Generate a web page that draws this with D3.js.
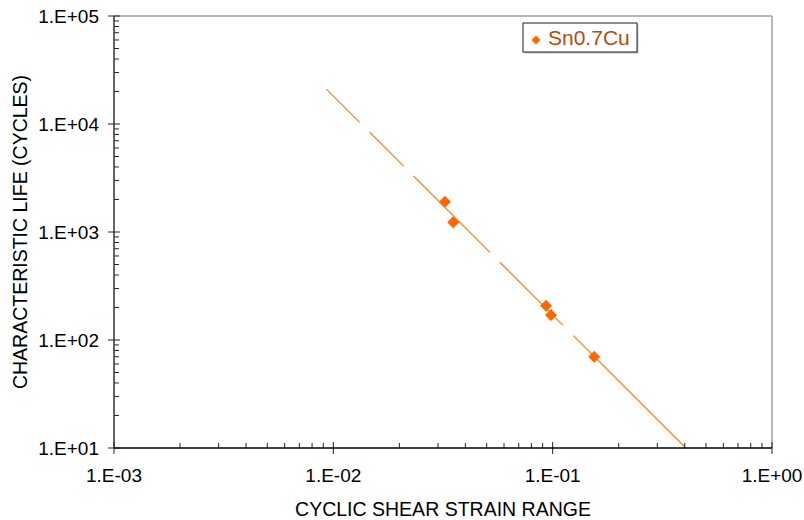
<!DOCTYPE html>
<html>
<head>
<meta charset="utf-8">
<script src="https://cdn.jsdelivr.net/npm/d3@7"></script>
<style>
  body { margin: 0; background: #fff; }
  svg { display: block; font-family: "Liberation Sans", Arial, sans-serif; }
</style>
</head>
<body>
<div id="chart"></div>
<script>
// Data
var strainRange = [0.0323, 0.0352, 0.0933, 0.0983, 0.1547];
var charLife    = [1910, 1230, 208, 170, 70];
var seriesName  = "Sn0.7Cu";
var xTicks = [1e-3, 1e-2, 1e-1, 1];
var xTickLabels = ["1.E-03", "1.E-02", "1.E-01", "1.E+00"];
var yTicks = [1e1, 1e2, 1e3, 1e4, 1e5];
var yTickLabels = ["1.E+01", "1.E+02", "1.E+03", "1.E+04", "1.E+05"];
var trendStart = 0.0093;   // backward forecast of the power trendline

var width = 804, height = 520;
var margin = { top: 16, right: 32, bottom: 72, left: 114 };
var w = width - margin.left - margin.right;
var h = height - margin.top - margin.bottom;

var svg = d3.select("#chart").append("svg")
  .attr("width", width)
  .attr("height", height);

var g = svg.append("g")
  .attr("transform", "translate(" + margin.left + "," + margin.top + ")");

var x = d3.scaleLog().domain([1e-3, 1]).range([0, w]);
var y = d3.scaleLog().domain([1e1, 1e5]).range([h, 0]);

// minor ticks 2..9 per decade
function minors(lo, hi) {
  var out = [];
  for (var e = Math.log10(lo); e < Math.log10(hi); e++) {
    for (var k = 2; k <= 9; k++) out.push(k * Math.pow(10, e));
  }
  return out;
}

// frame: gray top and right
g.append("line").attr("x1", 0).attr("x2", w).attr("y1", 0).attr("y2", 0)
  .attr("stroke", "#a0a0a0").attr("stroke-width", 1.5);
g.append("line").attr("x1", w).attr("x2", w).attr("y1", 0).attr("y2", h)
  .attr("stroke", "#a0a0a0").attr("stroke-width", 1.5);

// power trendline fitted in log-log space
var lx = strainRange.map(Math.log10), ly = charLife.map(Math.log10);
var mx = d3.mean(lx), my = d3.mean(ly);
var slope = d3.sum(lx, (d, i) => (d - mx) * (ly[i] - my)) / d3.sum(lx, d => (d - mx) * (d - mx));
var icpt = my - slope * mx;
var trendEnd = Math.pow(10, (1 - icpt) / slope);
var fit = d => Math.pow(10, icpt + slope * Math.log10(d));

g.append("line")
  .attr("x1", x(trendStart)).attr("y1", y(fit(trendStart)))
  .attr("x2", x(trendEnd)).attr("y2", y(fit(trendEnd)))
  .attr("stroke", "#ff7f1e")
  .attr("stroke-width", 1.2)
  .attr("stroke-dasharray", "47,14,48,14,108,14,89,15,400");

// axes
var xAxis = g.append("g").attr("transform", "translate(0," + h + ")");
xAxis.selectAll(".minor").data(minors(1e-3, 1)).enter().append("line")
  .attr("x1", d => x(d)).attr("x2", d => x(d)).attr("y1", 0).attr("y2", -5)
  .attr("stroke", "#222");
xAxis.selectAll(".major").data(xTicks).enter().append("line")
  .attr("x1", d => x(d)).attr("x2", d => x(d)).attr("y1", -6).attr("y2", 6)
  .attr("stroke", "#222");
xAxis.append("line").attr("x1", 0).attr("x2", w).attr("stroke", "#000").attr("stroke-width", 1.5);
xAxis.selectAll("text").data(xTicks).enter().append("text")
  .attr("x", d => x(d)).attr("y", 34)
  .attr("text-anchor", "middle")
  .style("font-size", "19px")
  .text((d, i) => xTickLabels[i]);

var yAxis = g.append("g");
yAxis.selectAll(".minor").data(minors(1e1, 1e5)).enter().append("line")
  .attr("y1", d => y(d)).attr("y2", d => y(d)).attr("x1", 0).attr("x2", 5)
  .attr("stroke", "#222");
yAxis.selectAll(".major").data(yTicks).enter().append("line")
  .attr("y1", d => y(d)).attr("y2", d => y(d)).attr("x1", -6).attr("x2", 6)
  .attr("stroke", "#222");
yAxis.append("line").attr("y1", 0).attr("y2", h).attr("stroke", "#333").attr("stroke-width", 1.5);
yAxis.selectAll("text").data(yTicks).enter().append("text")
  .attr("x", -15).attr("y", d => y(d) + 7)
  .attr("text-anchor", "end")
  .style("font-size", "19px")
  .text((d, i) => yTickLabels[i]);

// points
var diamond = d3.symbol().type(d3.symbolSquare).size(72);
g.selectAll(".dot").data(strainRange).enter().append("path")
  .attr("class", "dot")
  .attr("d", diamond)
  .attr("transform", (d, i) => "translate(" + x(d) + "," + y(charLife[i]) + ") rotate(45)")
  .attr("fill", "#ff6600");

// axis titles
svg.append("text")
  .attr("x", margin.left + w / 2).attr("y", 516)
  .attr("text-anchor", "middle")
  .style("font-size", "19.5px")
  .text("CYCLIC SHEAR STRAIN RANGE");

svg.append("text")
  .attr("transform", "translate(27," + (margin.top + h / 2) + ") rotate(-90)")
  .attr("text-anchor", "middle")
  .style("font-size", "19.5px")
  .text("CHARACTERISTIC LIFE (CYCLES)");

// legend
var leg = svg.append("g").attr("transform", "translate(523,23)");
leg.append("rect").attr("x", 1.5).attr("y", 1.5).attr("width", 114).attr("height", 29)
  .attr("fill", "#bbb");
leg.append("rect").attr("width", 114).attr("height", 29)
  .attr("fill", "#fff").attr("stroke", "#444").attr("stroke-width", 1.2);
leg.append("path")
  .attr("d", d3.symbol().type(d3.symbolSquare).size(40))
  .attr("transform", "translate(13,17) rotate(45)")
  .attr("fill", "#ff6600");
leg.append("text")
  .attr("x", 25).attr("y", 22)
  .style("font-size", "21px")
  .attr("fill", "#b84a10")
  .text(seriesName);
</script>
</body>
</html>
